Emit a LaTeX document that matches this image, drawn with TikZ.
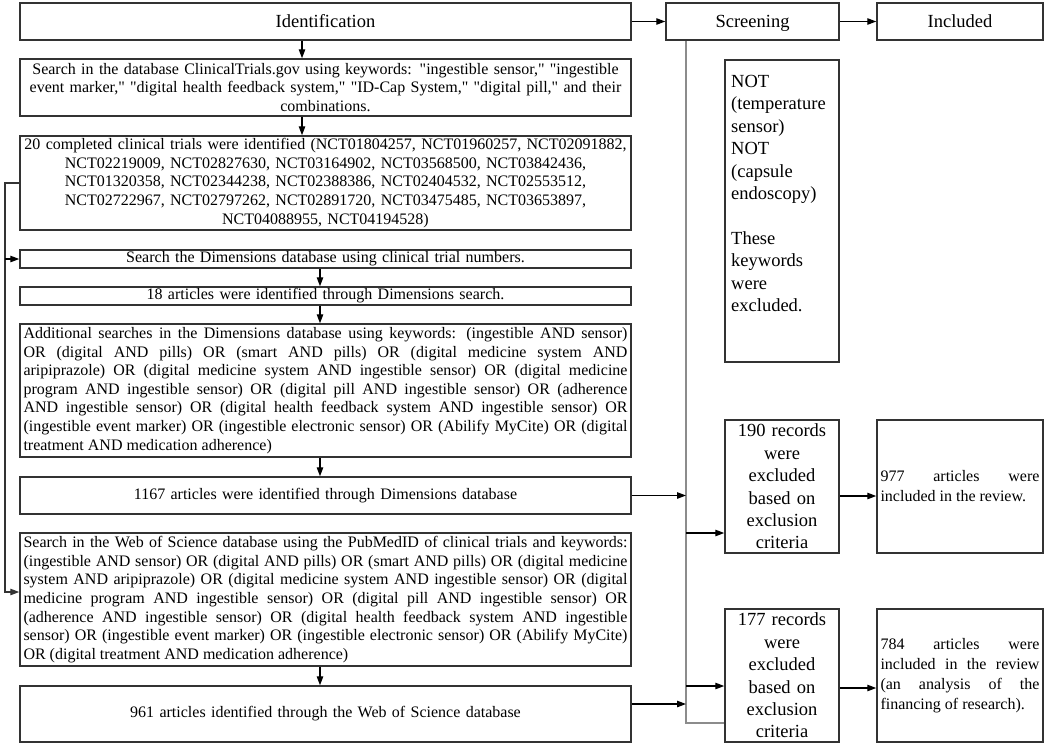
\documentclass[tikz,border=0pt]{standalone}
\usepackage{fontspec}
\setmainfont{Liberation Serif}[Ligatures=TeXOff]
\usetikzlibrary{arrows.meta}
\definecolor{bcol}{HTML}{333333}
\definecolor{gcol}{HTML}{8C8C8C}
\tolerance=10000
\hbadness=10000
\hyphenpenalty=10000
\exhyphenpenalty=10000
\tikzset{
  bx/.style={draw=bcol, line width=1.5pt, inner xsep=3.5pt, inner ysep=0pt, anchor=center},
  body/.style={font=\fontsize{16}{18.6}\selectfont},
  big/.style={font=\fontsize{18.5}{22.4}\selectfont},
  hdr/.style={font=\fontsize{18.5}{22.4}\selectfont, text height=14pt, text depth=2.5pt},
  inc/.style={font=\fontsize{16}{20}\selectfont},
  arr/.style={-{Triangle[length=9pt,width=6.5pt]}, line width=1.2pt, draw=black},
  gl/.style={line width=1.4pt, draw=gcol},
}
\begin{document}
\begin{tikzpicture}[x=1pt,y=-1pt]
\useasboundingbox (0,0) rectangle (1052,745);
% header row
\node[bx,hdr,minimum width=611pt,minimum height=37pt] (Ident) at (325.5,21.5) {Identification};
\node[bx,hdr,minimum width=173pt,minimum height=37pt] (Screening) at (752.5,21.5) {Screening};
\node[bx,hdr,minimum width=166pt,minimum height=37pt] (Included) at (960,21.5) {Included};
% left column
\node[bx,body,text width=604pt,align=center,minimum height=57pt] (SearchCT) at (325.5,87.5)
 {Search in the database ClinicalTrials.gov using keywords: "ingestible sensor," "ingestible\\
  event marker," "digital health feedback system," "ID-Cap System," "digital pill," and their\\
  combinations.};
\node[bx,body,text width=604pt,align=center,minimum height=94pt] (Trials) at (325.5,183)
 {20 completed clinical trials were identified (NCT01804257, NCT01960257, NCT02091882,\\
  NCT02219009, NCT02827630, NCT03164902, NCT03568500, NCT03842436,\\
  NCT01320358, NCT02344238, NCT02388386, NCT02404532, NCT02553512,\\
  NCT02722967, NCT02797262, NCT02891720, NCT03475485, NCT03653897,\\
  NCT04088955, NCT04194528)};
\node[bx,body,text width=604pt,align=center,minimum height=18pt] (Dim) at (325.5,259)
 {Search the Dimensions database using clinical trial numbers.};
\node[bx,body,text width=604pt,align=center,minimum height=18pt] (Art18) at (325.5,296)
 {18 articles were identified through Dimensions search.};
\node[bx,body,text width=604pt,align=justify,minimum height=133pt] (Add) at (325.5,390.5)
 {Additional searches in the Dimensions database using keywords: (ingestible AND sensor)\linebreak
  OR (digital AND pills) OR (smart AND pills) OR (digital medicine system AND\linebreak
  aripiprazole) OR (digital medicine system AND ingestible sensor) OR (digital medicine\linebreak
  program AND ingestible sensor) OR (digital pill AND ingestible sensor) OR (adherence\linebreak
  AND ingestible sensor) OR (digital health feedback system AND ingestible sensor) OR\linebreak
  (ingestible event marker) OR (ingestible electronic sensor) OR (Abilify MyCite) OR (digital\linebreak
  treatment AND medication adherence)};
\node[bx,body,text width=604pt,align=center,minimum height=37pt] (A1167) at (325.5,495.5)
 {1167 articles were identified through Dimensions database};
\node[bx,body,text width=604pt,align=justify,minimum height=133pt] (WoS) at (325.5,599.5)
 {Search in the Web of Science database using the PubMedID of clinical trials and keywords:\linebreak
  (ingestible AND sensor) OR (digital AND pills) OR (smart AND pills) OR (digital medicine\linebreak
  system AND aripiprazole) OR (digital medicine system AND ingestible sensor) OR (digital\linebreak
  medicine program AND ingestible sensor) OR (digital pill AND ingestible sensor) OR\linebreak
  (adherence AND ingestible sensor) OR (digital health feedback system AND ingestible\linebreak
  sensor) OR (ingestible event marker) OR (ingestible electronic sensor) OR (Abilify MyCite)\linebreak
  OR (digital treatment AND medication adherence)};
\node[bx,body,text width=604pt,align=center,minimum height=56pt] (A961) at (325.5,714)
 {961 articles identified through the Web of Science database};
% right columns
\node[bx,minimum width=114pt,minimum height=302pt] (NotBox) at (782,211) {};
\node[big,anchor=north west,inner sep=0pt,align=left] (NotTxt) at (731,75)
 {NOT\\(temperature\\sensor)\\NOT\\(capsule\\endoscopy)\\[22.4pt]These\\keywords\\were\\excluded.};
\node[bx,big,text width=107pt,align=center,minimum height=133pt] (R190) at (782,486.5)
 {190 records\\were\\excluded\\based on\\exclusion\\criteria};
\node[bx,big,text width=107pt,align=center,minimum height=133pt] (R177) at (782,675.5)
 {177 records\\were\\excluded\\based on\\exclusion\\criteria};
\node[bx,inc,text width=159pt,align=justify,minimum height=133pt] (I977) at (960,486.5)
 {977 articles were\linebreak included in the review.};
\node[bx,inc,text width=159pt,align=justify,minimum height=133pt] (I784) at (960,675.5)
 {784 articles were\linebreak included in the review\linebreak (an analysis of the\linebreak financing of research).};
% helper coordinates
\coordinate (xa) at (302,0);
\coordinate (xb) at (320,0);
\coordinate (xl) at (5,0);
\coordinate (xs) at (686,0);
\coordinate (lw) at (5,592);
\coordinate (sb) at (686,723);
\coordinate (s1) at (686,533);
\coordinate (s2) at (686,686);
\coordinate (s3) at (686,704);
\coordinate (h1) at (0,496);
\coordinate (h2) at (0,688);
% connectors
\draw[arr] (Ident.east) -- (Screening.west);
\draw[arr] (Screening.east) -- (Included.west);
\draw[arr] (Ident.south -| xa) -- (SearchCT.north -| xa);
\draw[arr] (SearchCT.south -| xa) -- (Trials.north -| xa);
\draw[arr] (Dim.south -| xb) -- (Art18.north -| xb);
\draw[arr] (Art18.south -| xb) -- (Add.north -| xb);
\draw[arr] (Add.south -| xb) -- (A1167.north -| xb);
\draw[arr] (WoS.south -| xb) -- (A961.north -| xb);
\draw[arr,draw=bcol] (Trials.west) -- (Trials.west -| xl) -- (lw) -- (lw -| WoS.west);
\draw[arr] (Dim.west -| xl) -- (Dim.west);
\draw[gl] (Screening.south -| xs) -- (sb) -- (sb -| R177.west);
\draw[arr] (s1) -- (s1 -| R190.west);
\draw[arr] (s2) -- (s2 -| R177.west);
\draw[arr] (A1167.east) -- (A1167.east -| xs);
\draw[arr] (A961.east |- s3) -- (s3);
\draw[arr] (R190.east |- h1) -- (I977.west |- h1);
\draw[arr] (R177.east |- h2) -- (I784.west |- h2);
\end{tikzpicture}
\end{document}
